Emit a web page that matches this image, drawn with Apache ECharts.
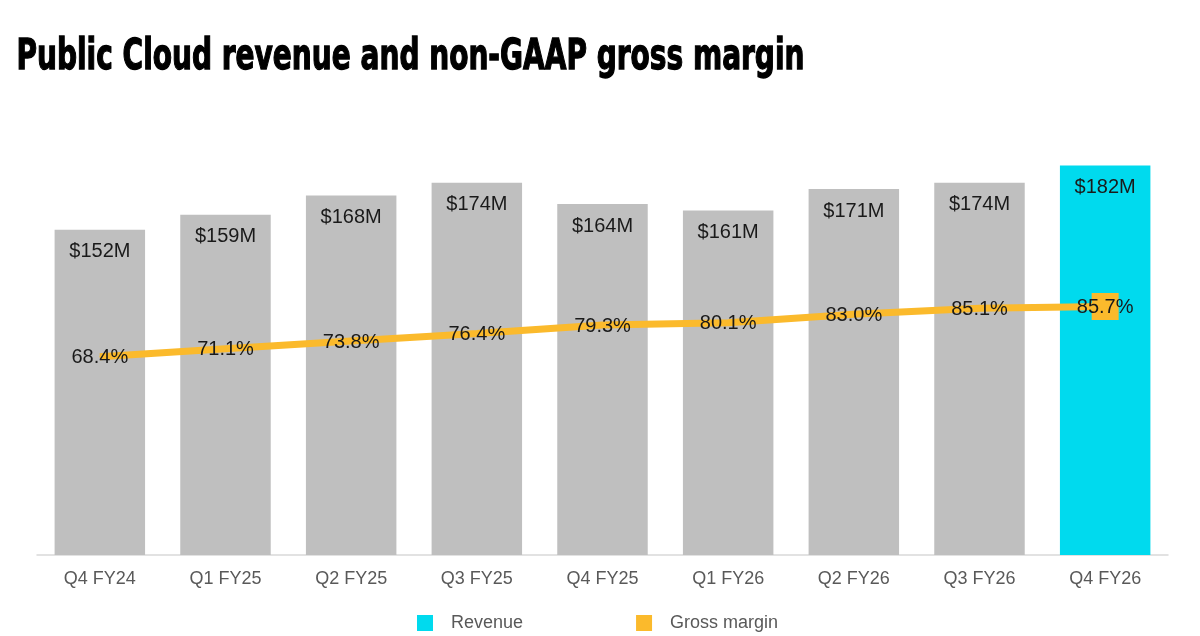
<!DOCTYPE html>
<html lang="en">
<head>
    <meta charset="UTF-8">
    <title>Public Cloud revenue and non-GAAP gross margin</title>
    <style>
        html, body { margin: 0; padding: 0; background: #fff; }
        #main { width: 1200px; height: 636px; }
    </style>
    <script src="https://cdn.jsdelivr.net/npm/echarts@6/dist/echarts.min.js"></script>
</head>
<body>
<div id="main"></div>
<script>
// data
var quarters = ['Q4 FY24', 'Q1 FY25', 'Q2 FY25', 'Q3 FY25', 'Q4 FY25', 'Q1 FY26', 'Q2 FY26', 'Q3 FY26', 'Q4 FY26'];
var revenue = [152, 159, 168, 174, 164, 161, 171, 174, 182];      // $M
var grossMargin = [68.4, 71.1, 73.8, 76.4, 79.3, 80.1, 83.0, 85.1, 85.7]; // %

var GREY = '#BFBFBF';
var CYAN = '#00DAEE';
var GOLD = '#FBBA2C';
var last = quarters.length - 1;

var titleText = 'Public Cloud revenue and non-GAAP gross margin';
var titleFont = 'bold 43px "DejaVu Sans Condensed", "Liberation Sans Narrow", sans-serif';
// squeeze the title to the width it has on the slide
var cv = document.createElement('canvas').getContext('2d');
cv.font = titleFont;
var titleScale = 788 / cv.measureText(titleText).width;

var chart = echarts.init(document.getElementById('main'));

var option = {
    animation: false,
    graphic: [{
        type: 'text',
        left: 16,
        top: 36,
        scaleX: titleScale,
        originX: 0,
        style: {
            text: titleText,
            font: titleFont,
            fill: '#000',
            stroke: '#000',
            lineWidth: 1.3
        }
    }],
    grid: { left: 37, right: 32, top: 127, bottom: 81 },
    legend: {
        left: 412,
        top: 609,
        itemWidth: 16,
        itemHeight: 16,
        itemGap: 113,
        icon: 'rect',
        textStyle: { fontSize: 18, color: '#595959', fontFamily: 'Liberation Sans, Arial, sans-serif', padding: [4, 0, 0, 13] },
        data: ['Revenue', 'Gross margin']
    },
    xAxis: {
        type: 'category',
        data: quarters,
        axisLine: { lineStyle: { color: '#D9D9D9', width: 1.5 } },
        axisTick: { show: false },
        axisLabel: { fontSize: 18, color: '#595959', margin: 15, fontFamily: 'Liberation Sans, Arial, sans-serif' }
    },
    yAxis: [
        { type: 'value', min: 0, max: 200, show: false, splitLine: { show: false } },
        { type: 'value', min: 0, max: 147.6, show: false, splitLine: { show: false } }
    ],
    series: [
        {
            name: 'Revenue',
            type: 'bar',
            barCategoryGap: '28%',
            itemStyle: { color: CYAN },
            data: revenue.map(function (v, i) {
                return i < last ? { value: v, itemStyle: { color: GREY } } : v;
            }),
            label: {
                show: true,
                position: 'insideTop',
                distance: 12,
                fontSize: 20,
                color: '#1A1A1A',
                fontFamily: 'Liberation Sans, Arial, sans-serif',
                formatter: function (p) { return '$' + p.value + 'M'; }
            },
            z: 1
        },
        {
            name: 'Gross margin',
            type: 'line',
            yAxisIndex: 1,
            data: grossMargin,
            symbol: 'rect',
            symbolSize: function (v, p) { return p.dataIndex === last ? 27 : 1; },
            itemStyle: { color: GOLD },
            lineStyle: { color: GOLD, width: 7 },
            label: {
                show: true,
                position: 'inside',
                offset: [0, 1],
                fontSize: 20,
                color: '#1A1A1A',
                fontFamily: 'Liberation Sans, Arial, sans-serif',
                formatter: function (p) { return p.value.toFixed(1) + '%'; }
            },
            z: 3
        }
    ]
};

chart.setOption(option);
</script>
</body>
</html>
